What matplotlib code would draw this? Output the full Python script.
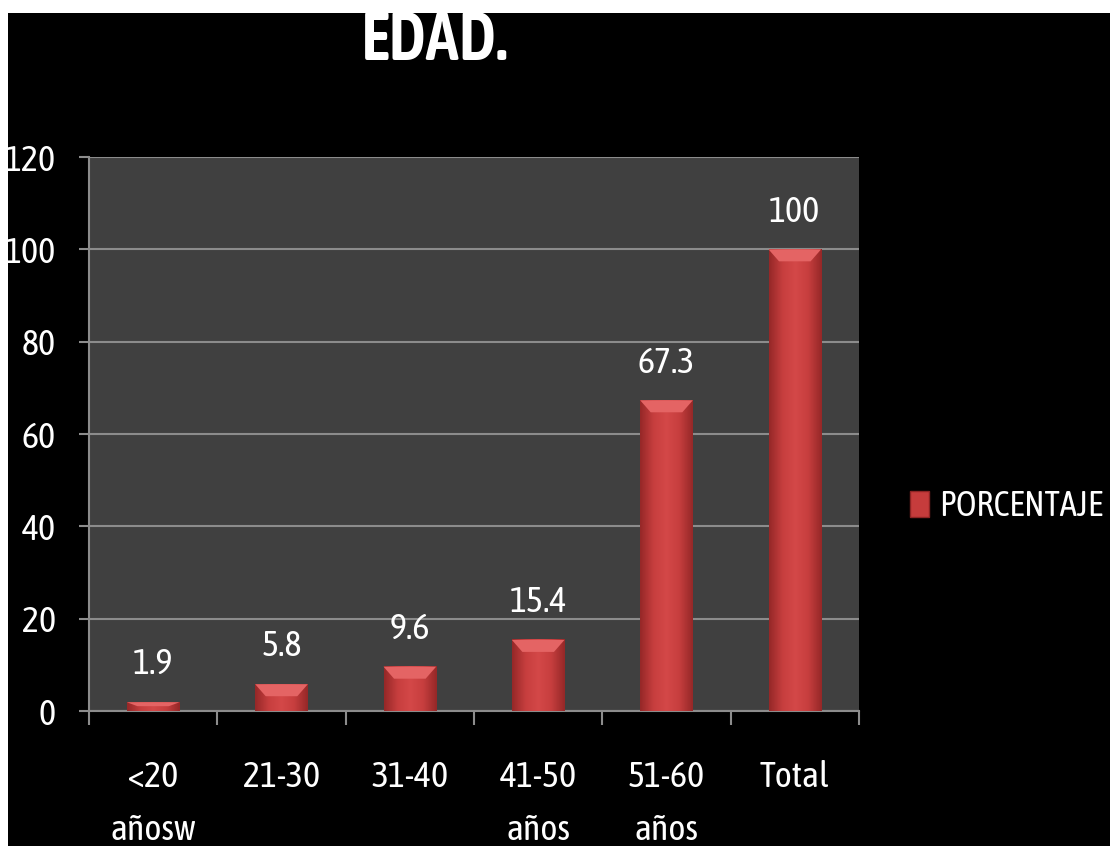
import numpy as np
import matplotlib
matplotlib.use("Agg")
import matplotlib.pyplot as plt
from matplotlib.colors import LinearSegmentedColormap
from matplotlib.patches import Polygon, Rectangle, Patch

# --- datos ---
categorias = ["<20\nañosw", "21-30", "31-40", "41-50\naños", "51-60\naños", "Total"]
porcentajes = [1.9, 5.8, 9.6, 15.4, 67.3, 100]
etiquetas = ["1.9", "5.8", "9.6", "15.4", "67.3", "100"]
ticks_y = [0, 20, 40, 60, 80, 100, 120]
titulo = "EDAD."
serie = "PORCENTAJE"

plt.rcParams["font.family"] = ["Asap Condensed", "DejaVu Sans"]
tam = 26

fig = plt.figure(figsize=(11.1, 8.46), dpi=100, facecolor="white")
# fondo negro con el borde blanco arriba y a la izquierda
fig.patches.append(Rectangle((8 / 1110, 0), 1, 1 - 13 / 846, transform=fig.transFigure,
                             facecolor="black", edgecolor="none", zorder=-10))

ax = fig.add_axes([89 / 1110, 1 - 711 / 846, 770 / 1110, 554 / 846])
ax.set_facecolor("#404040")

x = np.arange(len(categorias))
ancho = 0.41
barras = ax.bar(x, porcentajes, width=ancho, color="#c63c3c", zorder=3)

# sombreado de cada barra: degradado lateral + bisel superior
cmap = LinearSegmentedColormap.from_list("rojo", ["#962828", "#c63e3e", "#d44848", "#c63e3e", "#962828"])
grad = np.linspace(0, 1, 64).reshape(1, -1)
for r in barras:
    x0, w, h = r.get_x(), r.get_width(), r.get_height()
    ax.imshow(grad, cmap=cmap, extent=(x0, x0 + w, 0, h), aspect="auto", zorder=4)
    bisel = min(2.6, h * 0.45)
    dx = w * 0.2
    ax.add_patch(Polygon([(x0, h), (x0 + w, h), (x0 + w - dx, h - bisel), (x0 + dx, h - bisel)],
                         closed=True, facecolor="#e46464", edgecolor="none", zorder=5))

for xi, v, t in zip(x, porcentajes, etiquetas):
    ax.annotate(t, (xi, v), xytext=(0, 20), textcoords="offset points",
                ha="center", va="baseline", color="white", fontsize=tam, zorder=6)

ax.set_xlim(-0.5, len(categorias) - 0.5)
ax.set_ylim(0, 120)
ax.set_yticks(ticks_y)
ax.yaxis.grid(True, color="#8c8c8c", linewidth=1.5, zorder=1)
ax.set_axisbelow(True)

ax.set_xticks(x)
ax.set_xticklabels(categorias, linespacing=1.7)
ax.set_xticks(np.arange(len(categorias) + 1) - 0.5, minor=True)
ax.tick_params(axis="x", which="major", length=0, pad=35, labelsize=tam, colors="white")
ax.tick_params(axis="x", which="minor", length=10, width=1.5, color="#8c8c8c")
ax.tick_params(axis="y", length=7, width=1.5, color="#8c8c8c", pad=17, labelsize=tam, labelcolor="white")

for lado in ["top", "right"]:
    ax.spines[lado].set_visible(False)
for lado in ["left", "bottom"]:
    ax.spines[lado].set_color("#8c8c8c")
    ax.spines[lado].set_linewidth(1.5)

fig.text(435 / 1110, 1 - 60 / 846, titulo, ha="center", va="baseline",
         color="white", fontsize=48, fontweight="semibold")

fig.legend(handles=[Patch(facecolor="#c63c3c", edgecolor="#8e2424", label=serie)],
           loc="center left", bbox_to_anchor=(910 / 1110, 1 - 506 / 846),
           frameon=False, fontsize=25, labelcolor="white",
           borderaxespad=0, borderpad=0,
           handlelength=0.55, handleheight=0.8, handletextpad=0.3)

fig.savefig("out.png", dpi=100, facecolor=fig.get_facecolor())
